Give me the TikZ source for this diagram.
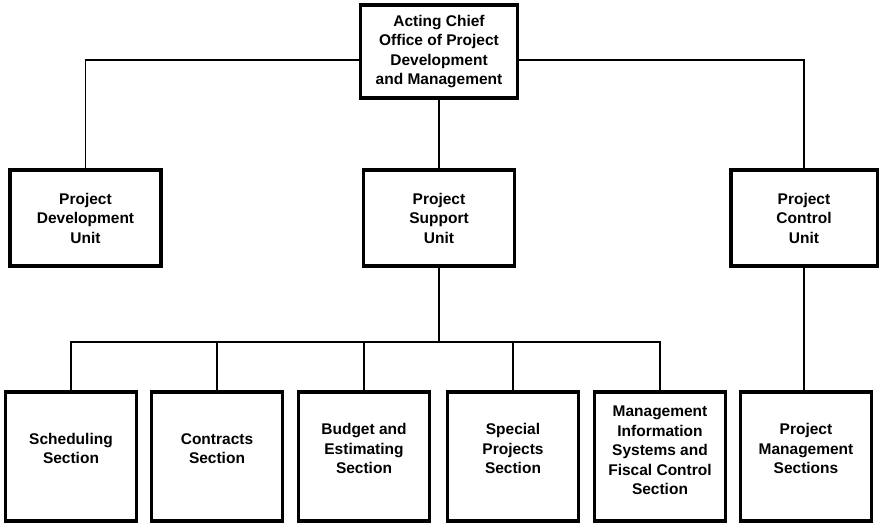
\documentclass[tikz,border=0pt]{standalone}
\usepackage{fontspec}
\setmainfont{Liberation Sans}

\begin{document}
\begin{tikzpicture}[x=1pt, y=1pt,
    every node/.style={font=\fontsize{15.5}{19.5}\selectfont\bfseries, align=center},
    unit/.style={draw, line width=3.5pt, minimum width=151pt, minimum height=96pt, inner sep=0pt},
    sect/.style={draw, line width=3.5pt, minimum width=131pt, minimum height=129pt, inner sep=0pt},
    link/.style={line width=1.8pt}]
  \useasboundingbox (0,0) rectangle (879,-525);
  \node[unit, minimum width=157pt, minimum height=93pt] (chief) at (439,-51.5)
       {Acting Chief\\Office of Project\\Development\\and Management};
  \node[unit] (pdu) at (85.5,-218) {Project\\Development\\Unit};
  \node[unit] (psu) at (439,-218) {Project\\Support\\Unit};
  \node[unit, minimum width=146.5pt] (pcu) at (804,-218) {Project\\Control\\Unit};
  \node[sect, label={[yshift=8pt]center:Scheduling\\Section}] (sched) at (71,-456.5) {};
  \node[sect, label={[yshift=8pt]center:Contracts\\Section}] (contr) at (217,-456.5) {};
  \node[sect, label={[yshift=8pt]center:Budget and\\Estimating\\Section}] (budget) at (364,-456.5) {};
  \node[sect, label={[yshift=8pt]center:Special\\Projects\\Section}] (special) at (513,-456.5) {};
  \node[sect, label={[yshift=6pt]center:Management\\Information\\Systems and\\Fiscal Control\\Section}] (mis) at (660,-456.5) {};
  \node[sect, label={[yshift=8pt]center:Project\\Management\\Sections}] (pms) at (806,-456.5) {};
  \coordinate (bus) at (439,-342);
  \draw[link] ([yshift=-8.5pt]chief.west) -| (pdu.north);
  \draw[link] ([yshift=-8.5pt]chief.east) -| (pcu.north);
  \draw[link] (chief.south) -- (psu.north);
  \draw[link] (psu.south) -- (bus);
  \draw[link] (sched.north) |- (bus) -| (mis.north);
  \foreach \n in {contr, budget, special}
    \draw[link] (\n.north) -- (\n.north |- bus);
  \draw[link] (pcu.south) -- (pcu.south |- pms.north);
\end{tikzpicture}
\end{document}
